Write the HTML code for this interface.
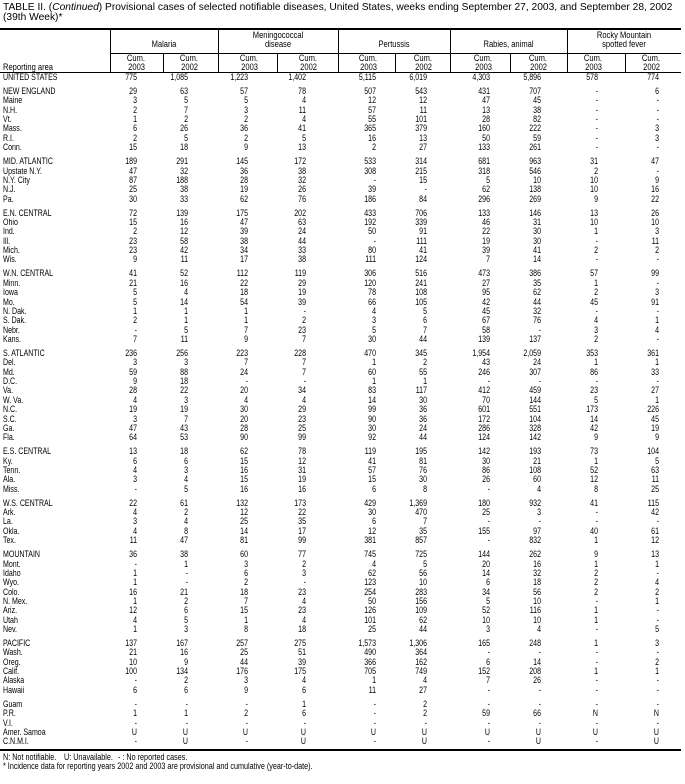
<!DOCTYPE html>
<html><head><meta charset="utf-8">
<style>
*{margin:0;padding:0;box-sizing:border-box}
body{width:685px;height:784px;background:#fff;position:relative;overflow:hidden;font-family:"Liberation Sans",Arial,sans-serif;color:#000}
.a{position:absolute;white-space:nowrap}
.t{font-size:10.5px;left:3px;transform:scaleX(.973);transform-origin:left}
.h{font-size:9px;line-height:9.3px;transform:scaleX(.84)}
.c{text-align:center;transform-origin:center}
.rt{text-align:right;transform-origin:right}
.ln{position:absolute;background:#000}
#d{position:absolute;left:0;top:73px;width:685px}
.r{position:relative;height:9.36px;font-size:8.8px;line-height:9px}
.g{height:4.67px}
.r span{position:absolute;top:0;width:40px;text-align:right;white-space:nowrap;transform:scaleX(.8);transform-origin:right}
.r span:nth-child(1){left:3px;width:120px;text-align:left;transform-origin:left}
.r span:nth-child(2){left:97px}
.r span:nth-child(3){left:148px}
.r span:nth-child(4){left:208px}
.r span:nth-child(5){left:266px}
.r span:nth-child(6){left:336px}
.r span:nth-child(7){left:387px}
.r span:nth-child(8){left:450px}
.r span:nth-child(9){left:501px}
.r span:nth-child(10){left:558px}
.r span:nth-child(11){left:619px}
.f{font-size:8.8px;transform:scaleX(.82);transform-origin:left}
</style></head><body>
<div class="a t" style="top:1px">TABLE II. (<i>Continued</i>) Provisional cases of selected notifiable diseases, United States, weeks ending September 27, 2003, and September 28, 2002</div>
<div class="a t" style="top:11px">(39th Week)*</div>

<div class="ln" style="left:0;top:28px;width:681px;height:2px"></div>
<div class="ln" style="left:110px;top:53px;width:571px;height:1px"></div>
<div class="ln" style="left:0;top:72px;width:681px;height:1px"></div>
<div class="ln" style="left:110px;top:29px;width:1px;height:44px"></div>
<div class="ln" style="left:218px;top:29px;width:1px;height:44px"></div>
<div class="ln" style="left:338px;top:29px;width:1px;height:44px"></div>
<div class="ln" style="left:450px;top:29px;width:1px;height:44px"></div>
<div class="ln" style="left:567px;top:29px;width:1px;height:44px"></div>
<div class="ln" style="left:163px;top:53px;width:1px;height:20px"></div>
<div class="ln" style="left:277px;top:53px;width:1px;height:20px"></div>
<div class="ln" style="left:395px;top:53px;width:1px;height:20px"></div>
<div class="ln" style="left:510px;top:53px;width:1px;height:20px"></div>
<div class="ln" style="left:625px;top:53px;width:1px;height:20px"></div>

<div class="a h c" style="left:110px;width:108px;top:40px">Malaria</div>
<div class="a h c" style="left:218px;width:120px;top:31px">Meningococcal<br>disease</div>
<div class="a h c" style="left:338px;width:112px;top:40px">Pertussis</div>
<div class="a h c" style="left:450px;width:117px;top:40px">Rabies, animal</div>
<div class="a h c" style="left:567px;width:114px;top:31px">Rocky Mountain<br>spotted fever</div>
<div class="a h" style="left:3px;top:63px;transform-origin:left">Reporting area</div>
<div class="a h rt" style="left:105px;width:40px;top:54px">Cum.<br>2003</div>
<div class="a h rt" style="left:158px;width:40px;top:54px">Cum.<br>2002</div>
<div class="a h rt" style="left:218px;width:40px;top:54px">Cum.<br>2003</div>
<div class="a h rt" style="left:277px;width:40px;top:54px">Cum.<br>2002</div>
<div class="a h rt" style="left:337px;width:40px;top:54px">Cum.<br>2003</div>
<div class="a h rt" style="left:392px;width:40px;top:54px">Cum.<br>2002</div>
<div class="a h rt" style="left:452px;width:40px;top:54px">Cum.<br>2003</div>
<div class="a h rt" style="left:507px;width:40px;top:54px">Cum.<br>2002</div>
<div class="a h rt" style="left:562px;width:40px;top:54px">Cum.<br>2003</div>
<div class="a h rt" style="left:620px;width:40px;top:54px">Cum.<br>2002</div>

<div id="d">
<div class="r"><span>UNITED STATES</span><span>775</span><span>1,085</span><span>1,223</span><span>1,402</span><span>5,115</span><span>6,019</span><span>4,303</span><span>5,896</span><span>578</span><span>774</span></div>
<div class="g"></div>
<div class="r"><span>NEW ENGLAND</span><span>29</span><span>63</span><span>57</span><span>78</span><span>507</span><span>543</span><span>431</span><span>707</span><span>-</span><span>6</span></div>
<div class="r"><span>Maine</span><span>3</span><span>5</span><span>5</span><span>4</span><span>12</span><span>12</span><span>47</span><span>45</span><span>-</span><span>-</span></div>
<div class="r"><span>N.H.</span><span>2</span><span>7</span><span>3</span><span>11</span><span>57</span><span>11</span><span>13</span><span>38</span><span>-</span><span>-</span></div>
<div class="r"><span>Vt.</span><span>1</span><span>2</span><span>2</span><span>4</span><span>55</span><span>101</span><span>28</span><span>82</span><span>-</span><span>-</span></div>
<div class="r"><span>Mass.</span><span>6</span><span>26</span><span>36</span><span>41</span><span>365</span><span>379</span><span>160</span><span>222</span><span>-</span><span>3</span></div>
<div class="r"><span>R.I.</span><span>2</span><span>5</span><span>2</span><span>5</span><span>16</span><span>13</span><span>50</span><span>59</span><span>-</span><span>3</span></div>
<div class="r"><span>Conn.</span><span>15</span><span>18</span><span>9</span><span>13</span><span>2</span><span>27</span><span>133</span><span>261</span><span>-</span><span>-</span></div>
<div class="g"></div>
<div class="r"><span>MID. ATLANTIC</span><span>189</span><span>291</span><span>145</span><span>172</span><span>533</span><span>314</span><span>681</span><span>963</span><span>31</span><span>47</span></div>
<div class="r"><span>Upstate N.Y.</span><span>47</span><span>32</span><span>36</span><span>38</span><span>308</span><span>215</span><span>318</span><span>546</span><span>2</span><span>-</span></div>
<div class="r"><span>N.Y. City</span><span>87</span><span>188</span><span>28</span><span>32</span><span>-</span><span>15</span><span>5</span><span>10</span><span>10</span><span>9</span></div>
<div class="r"><span>N.J.</span><span>25</span><span>38</span><span>19</span><span>26</span><span>39</span><span>-</span><span>62</span><span>138</span><span>10</span><span>16</span></div>
<div class="r"><span>Pa.</span><span>30</span><span>33</span><span>62</span><span>76</span><span>186</span><span>84</span><span>296</span><span>269</span><span>9</span><span>22</span></div>
<div class="g"></div>
<div class="r"><span>E.N. CENTRAL</span><span>72</span><span>139</span><span>175</span><span>202</span><span>433</span><span>706</span><span>133</span><span>146</span><span>13</span><span>26</span></div>
<div class="r"><span>Ohio</span><span>15</span><span>16</span><span>47</span><span>63</span><span>192</span><span>339</span><span>46</span><span>31</span><span>10</span><span>10</span></div>
<div class="r"><span>Ind.</span><span>2</span><span>12</span><span>39</span><span>24</span><span>50</span><span>91</span><span>22</span><span>30</span><span>1</span><span>3</span></div>
<div class="r"><span>Ill.</span><span>23</span><span>58</span><span>38</span><span>44</span><span>-</span><span>111</span><span>19</span><span>30</span><span>-</span><span>11</span></div>
<div class="r"><span>Mich.</span><span>23</span><span>42</span><span>34</span><span>33</span><span>80</span><span>41</span><span>39</span><span>41</span><span>2</span><span>2</span></div>
<div class="r"><span>Wis.</span><span>9</span><span>11</span><span>17</span><span>38</span><span>111</span><span>124</span><span>7</span><span>14</span><span>-</span><span>-</span></div>
<div class="g"></div>
<div class="r"><span>W.N. CENTRAL</span><span>41</span><span>52</span><span>112</span><span>119</span><span>306</span><span>516</span><span>473</span><span>386</span><span>57</span><span>99</span></div>
<div class="r"><span>Minn.</span><span>21</span><span>16</span><span>22</span><span>29</span><span>120</span><span>241</span><span>27</span><span>35</span><span>1</span><span>-</span></div>
<div class="r"><span>Iowa</span><span>5</span><span>4</span><span>18</span><span>19</span><span>78</span><span>108</span><span>95</span><span>62</span><span>2</span><span>3</span></div>
<div class="r"><span>Mo.</span><span>5</span><span>14</span><span>54</span><span>39</span><span>66</span><span>105</span><span>42</span><span>44</span><span>45</span><span>91</span></div>
<div class="r"><span>N. Dak.</span><span>1</span><span>1</span><span>1</span><span>-</span><span>4</span><span>5</span><span>45</span><span>32</span><span>-</span><span>-</span></div>
<div class="r"><span>S. Dak.</span><span>2</span><span>1</span><span>1</span><span>2</span><span>3</span><span>6</span><span>67</span><span>76</span><span>4</span><span>1</span></div>
<div class="r"><span>Nebr.</span><span>-</span><span>5</span><span>7</span><span>23</span><span>5</span><span>7</span><span>58</span><span>-</span><span>3</span><span>4</span></div>
<div class="r"><span>Kans.</span><span>7</span><span>11</span><span>9</span><span>7</span><span>30</span><span>44</span><span>139</span><span>137</span><span>2</span><span>-</span></div>
<div class="g"></div>
<div class="r"><span>S. ATLANTIC</span><span>236</span><span>256</span><span>223</span><span>228</span><span>470</span><span>345</span><span>1,954</span><span>2,059</span><span>353</span><span>361</span></div>
<div class="r"><span>Del.</span><span>3</span><span>3</span><span>7</span><span>7</span><span>1</span><span>2</span><span>43</span><span>24</span><span>1</span><span>1</span></div>
<div class="r"><span>Md.</span><span>59</span><span>88</span><span>24</span><span>7</span><span>60</span><span>55</span><span>246</span><span>307</span><span>86</span><span>33</span></div>
<div class="r"><span>D.C.</span><span>9</span><span>18</span><span>-</span><span>-</span><span>1</span><span>1</span><span>-</span><span>-</span><span>-</span><span>-</span></div>
<div class="r"><span>Va.</span><span>28</span><span>22</span><span>20</span><span>34</span><span>83</span><span>117</span><span>412</span><span>459</span><span>23</span><span>27</span></div>
<div class="r"><span>W. Va.</span><span>4</span><span>3</span><span>4</span><span>4</span><span>14</span><span>30</span><span>70</span><span>144</span><span>5</span><span>1</span></div>
<div class="r"><span>N.C.</span><span>19</span><span>19</span><span>30</span><span>29</span><span>99</span><span>36</span><span>601</span><span>551</span><span>173</span><span>226</span></div>
<div class="r"><span>S.C.</span><span>3</span><span>7</span><span>20</span><span>23</span><span>90</span><span>36</span><span>172</span><span>104</span><span>14</span><span>45</span></div>
<div class="r"><span>Ga.</span><span>47</span><span>43</span><span>28</span><span>25</span><span>30</span><span>24</span><span>286</span><span>328</span><span>42</span><span>19</span></div>
<div class="r"><span>Fla.</span><span>64</span><span>53</span><span>90</span><span>99</span><span>92</span><span>44</span><span>124</span><span>142</span><span>9</span><span>9</span></div>
<div class="g"></div>
<div class="r"><span>E.S. CENTRAL</span><span>13</span><span>18</span><span>62</span><span>78</span><span>119</span><span>195</span><span>142</span><span>193</span><span>73</span><span>104</span></div>
<div class="r"><span>Ky.</span><span>6</span><span>6</span><span>15</span><span>12</span><span>41</span><span>81</span><span>30</span><span>21</span><span>1</span><span>5</span></div>
<div class="r"><span>Tenn.</span><span>4</span><span>3</span><span>16</span><span>31</span><span>57</span><span>76</span><span>86</span><span>108</span><span>52</span><span>63</span></div>
<div class="r"><span>Ala.</span><span>3</span><span>4</span><span>15</span><span>19</span><span>15</span><span>30</span><span>26</span><span>60</span><span>12</span><span>11</span></div>
<div class="r"><span>Miss.</span><span>-</span><span>5</span><span>16</span><span>16</span><span>6</span><span>8</span><span>-</span><span>4</span><span>8</span><span>25</span></div>
<div class="g"></div>
<div class="r"><span>W.S. CENTRAL</span><span>22</span><span>61</span><span>132</span><span>173</span><span>429</span><span>1,369</span><span>180</span><span>932</span><span>41</span><span>115</span></div>
<div class="r"><span>Ark.</span><span>4</span><span>2</span><span>12</span><span>22</span><span>30</span><span>470</span><span>25</span><span>3</span><span>-</span><span>42</span></div>
<div class="r"><span>La.</span><span>3</span><span>4</span><span>25</span><span>35</span><span>6</span><span>7</span><span>-</span><span>-</span><span>-</span><span>-</span></div>
<div class="r"><span>Okla.</span><span>4</span><span>8</span><span>14</span><span>17</span><span>12</span><span>35</span><span>155</span><span>97</span><span>40</span><span>61</span></div>
<div class="r"><span>Tex.</span><span>11</span><span>47</span><span>81</span><span>99</span><span>381</span><span>857</span><span>-</span><span>832</span><span>1</span><span>12</span></div>
<div class="g"></div>
<div class="r"><span>MOUNTAIN</span><span>36</span><span>38</span><span>60</span><span>77</span><span>745</span><span>725</span><span>144</span><span>262</span><span>9</span><span>13</span></div>
<div class="r"><span>Mont.</span><span>-</span><span>1</span><span>3</span><span>2</span><span>4</span><span>5</span><span>20</span><span>16</span><span>1</span><span>1</span></div>
<div class="r"><span>Idaho</span><span>1</span><span>-</span><span>6</span><span>3</span><span>62</span><span>56</span><span>14</span><span>32</span><span>2</span><span>-</span></div>
<div class="r"><span>Wyo.</span><span>1</span><span>-</span><span>2</span><span>-</span><span>123</span><span>10</span><span>6</span><span>18</span><span>2</span><span>4</span></div>
<div class="r"><span>Colo.</span><span>16</span><span>21</span><span>18</span><span>23</span><span>254</span><span>283</span><span>34</span><span>56</span><span>2</span><span>2</span></div>
<div class="r"><span>N. Mex.</span><span>1</span><span>2</span><span>7</span><span>4</span><span>50</span><span>156</span><span>5</span><span>10</span><span>-</span><span>1</span></div>
<div class="r"><span>Ariz.</span><span>12</span><span>6</span><span>15</span><span>23</span><span>126</span><span>109</span><span>52</span><span>116</span><span>1</span><span>-</span></div>
<div class="r"><span>Utah</span><span>4</span><span>5</span><span>1</span><span>4</span><span>101</span><span>62</span><span>10</span><span>10</span><span>1</span><span>-</span></div>
<div class="r"><span>Nev.</span><span>1</span><span>3</span><span>8</span><span>18</span><span>25</span><span>44</span><span>3</span><span>4</span><span>-</span><span>5</span></div>
<div class="g"></div>
<div class="r"><span>PACIFIC</span><span>137</span><span>167</span><span>257</span><span>275</span><span>1,573</span><span>1,306</span><span>165</span><span>248</span><span>1</span><span>3</span></div>
<div class="r"><span>Wash.</span><span>21</span><span>16</span><span>25</span><span>51</span><span>490</span><span>364</span><span>-</span><span>-</span><span>-</span><span>-</span></div>
<div class="r"><span>Oreg.</span><span>10</span><span>9</span><span>44</span><span>39</span><span>366</span><span>162</span><span>6</span><span>14</span><span>-</span><span>2</span></div>
<div class="r"><span>Calif.</span><span>100</span><span>134</span><span>176</span><span>175</span><span>705</span><span>749</span><span>152</span><span>208</span><span>1</span><span>1</span></div>
<div class="r"><span>Alaska</span><span>-</span><span>2</span><span>3</span><span>4</span><span>1</span><span>4</span><span>7</span><span>26</span><span>-</span><span>-</span></div>
<div class="r"><span>Hawaii</span><span>6</span><span>6</span><span>9</span><span>6</span><span>11</span><span>27</span><span>-</span><span>-</span><span>-</span><span>-</span></div>
<div class="g"></div>
<div class="r"><span>Guam</span><span>-</span><span>-</span><span>-</span><span>1</span><span>-</span><span>2</span><span>-</span><span>-</span><span>-</span><span>-</span></div>
<div class="r"><span>P.R.</span><span>1</span><span>1</span><span>2</span><span>6</span><span>-</span><span>2</span><span>59</span><span>66</span><span>N</span><span>N</span></div>
<div class="r"><span>V.I.</span><span>-</span><span>-</span><span>-</span><span>-</span><span>-</span><span>-</span><span>-</span><span>-</span><span>-</span><span>-</span></div>
<div class="r"><span>Amer. Samoa</span><span>U</span><span>U</span><span>U</span><span>U</span><span>U</span><span>U</span><span>U</span><span>U</span><span>U</span><span>U</span></div>
<div class="r"><span>C.N.M.I.</span><span>-</span><span>U</span><span>-</span><span>U</span><span>-</span><span>U</span><span>-</span><span>U</span><span>-</span><span>U</span></div>
</div>

<div class="ln" style="left:0;top:749px;width:681px;height:2px"></div>
<div class="a f" style="left:3px;top:752px">N: Not notifiable.</div>
<div class="a f" style="left:64px;top:752px">U: Unavailable.</div>
<div class="a f" style="left:118px;top:752px">- : No reported cases.</div>
<div class="a f" style="left:3px;top:761px">* Incidence data for reporting years 2002 and 2003 are provisional and cumulative (year-to-date).</div>
</body></html>
